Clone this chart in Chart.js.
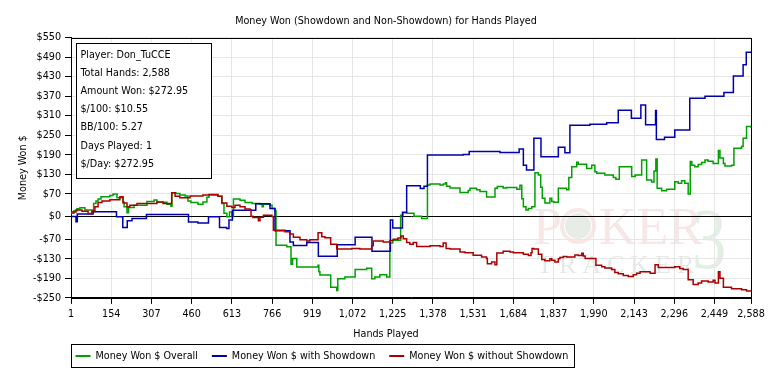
<!DOCTYPE html>
<html>
<head>
<meta charset="utf-8">
<title>Money Won (Showdown and Non-Showdown) for Hands Played</title>
<script src="https://cdn.jsdelivr.net/npm/chart.js@4.4.1/dist/chart.umd.min.js"></script>
<style>
    html, body { margin: 0; padding: 0; background: #fff; }
    #chart { display: block; }
</style>
</head>
<body>
<canvas id="chart" width="772" height="383"></canvas>
<script>
// Hand number where each series steps, and its running total from that hand on
var overallHands = [1, 12, 24, 35, 54, 81, 87, 96, 104, 115, 149, 161, 176, 199, 203, 214, 220, 241, 290, 317,
    328, 366, 381, 385, 400, 415, 435, 446, 457, 484, 503, 518, 526, 560, 575, 583, 594, 604, 613, 619,
    644, 663, 690, 720, 728, 733, 758, 766, 777, 781, 822, 838, 844, 860, 941, 944, 948, 989, 1012, 1016,
    1043, 1082, 1126, 1145, 1157, 1176, 1202, 1214, 1225, 1255, 1264, 1279, 1306, 1335, 1357, 1367, 1405, 1417, 1426, 1430,
    1443, 1481, 1512, 1519, 1544, 1557, 1582, 1614, 1623, 1645, 1658, 1697, 1709, 1716, 1722, 1732, 1741, 1754, 1766, 1779,
    1788, 1794, 1804, 1823, 1830, 1838, 1855, 1887, 1895, 1906, 1925, 1931, 1963, 1982, 1994, 2001, 2032, 2064, 2074, 2087,
    2134, 2147, 2172, 2191, 2210, 2219, 2226, 2231, 2248, 2267, 2298, 2311, 2324, 2336, 2349, 2357, 2363, 2374, 2387, 2400,
    2413, 2425, 2444, 2464, 2470, 2483, 2489, 2514, 2523, 2552, 2558, 2571, 2588];
var overallWon = [10, 18, 24, 27, 20, 14, 40, 48, 54, 61, 65, 69, 58, 45, 30, 12, 28, 35, 46, 51,
    44, 38, 32, 73, 71, 66, 63, 48, 43, 38, 45, 59, 66, 62, 40, 10, -1, 14, -1, 54,
    50, 43, 40, 38, 30, 38, 35, 25, 18, -88, -93, -147, -129, -155, -150, -170, -180, -217, -227, -191,
    -186, -163, -159, -191, -186, -179, -186, -81, -73, 4, 12, 10, 1, -6, 97, 100, 97, 100, 104, 93,
    88, 74, 80, 87, 82, 77, 60, 87, 92, 88, 89, 84, 96, 55, 30, 20, 25, 30, 135, 128,
    90, 56, 42, 56, 46, 44, 87, 82, 120, 153, 167, 161, 148, 158, 138, 133, 128, 120, 115, 153,
    123, 128, 174, 112, 106, 140, 177, 87, 79, 84, 107, 102, 110, 102, 69, 169, 158, 153, 160, 166,
    174, 170, 163, 203, 180, 163, 155, 158, 210, 215, 241, 277, 273];

var showdownHands = [1, 20, 25, 85, 174, 198, 215, 233, 288, 448, 484, 524, 566, 593, 602, 615, 704, 758, 777, 834,
    847, 898, 942, 1014, 1082, 1146, 1216, 1225, 1262, 1278, 1330, 1344, 1357, 1493, 1516, 1633, 1706, 1722, 1734, 1762,
    1789, 1855, 1880, 1899, 1975, 2039, 2083, 2133, 2169, 2187, 2225, 2228, 2259, 2298, 2355, 2413, 2485, 2521, 2558, 2570,
    2588];
var showdownWon = [0, -16, 8, 15, -1, -34, -13, -6, 6, -17, -20, -1, -34, -37, -11, 19, 39, 25, -44, -78,
    -89, -80, -122, -87, -64, -107, -11, -35, 13, 95, 86, 93, 189, 191, 200, 197, 208, 158, 143, 241,
    184, 213, 196, 281, 284, 288, 327, 302, 343, 282, 326, 237, 244, 266, 364, 370, 381, 432, 467, 505,
    505];

var nonShowdownHands = [1, 20, 43, 66, 81, 92, 104, 119, 149, 187, 199, 214, 225, 252, 328, 351, 384, 397, 415, 454,
    503, 526, 560, 575, 594, 613, 625, 644, 663, 682, 686, 693, 714, 720, 733, 765, 771, 815, 834, 847,
    872, 898, 910, 941, 955, 967, 989, 1012, 1069, 1100, 1145, 1151, 1189, 1214, 1227, 1245, 1256, 1265, 1278, 1290,
    1303, 1316, 1367, 1405, 1417, 1428, 1443, 1481, 1500, 1531, 1563, 1582, 1585, 1601, 1614, 1621, 1645, 1671, 1684, 1722,
    1741, 1751, 1755, 1762, 1779, 1792, 1804, 1823, 1830, 1842, 1855, 1861, 1874, 1887, 1918, 1931, 1944, 1950, 1957, 1998,
    2020, 2032, 2058, 2070, 2083, 2102, 2121, 2140, 2153, 2166, 2204, 2223, 2235, 2298, 2317, 2330, 2349, 2368, 2387, 2400,
    2425, 2444, 2451, 2464, 2470, 2483, 2514, 2552, 2571, 2588];
var nonShowdownWon = [14, 20, 16, 9, 17, 30, 43, 48, 52, 61, 42, 30, 35, 40, 45, 40, 73, 62, 58, 63,
    66, 68, 62, 42, 32, 28, 35, 30, 23, 20, 1, -3, -13, -2, 4, 0, -42, -47, -54, -64,
    -71, -75, -71, -50, -62, -65, -85, -100, -98, -100, -90, -75, -78, -74, -70, -66, -60, -68, -80, -85,
    -80, -92, -90, -92, -81, -98, -100, -109, -111, -119, -124, -129, -145, -140, -148, -112, -107, -109, -111, -116,
    -120, -111, -98, -100, -116, -132, -136, -130, -134, -140, -130, -126, -123, -124, -118, -120, -113, -121, -129, -150,
    -154, -158, -163, -172, -176, -181, -184, -179, -174, -170, -174, -148, -157, -154, -160, -163, -194, -209, -204, -198,
    -201, -196, -204, -170, -190, -217, -222, -225, -229, -229];

var handTicks = [1, 154, 307, 460, 613, 766, 919, 1072, 1225, 1378, 1531, 1684, 1837, 1990, 2143, 2296, 2449, 2588];
var moneyTicks = [-250, -190, -130, -70, 0, 70, 130, 190, 250, 310, 370, 430, 490, 550];

var seriesNames = ['Money Won $ Overall', 'Money Won $ with Showdown', 'Money Won $ without Showdown'];
var seriesColors = ['#00a000', '#0000aa', '#aa0000'];

var statLines = ['Player: Don_TuCCE', 'Total Hands: 2,588', 'Amount Won: $272.95', '$/100: $10.55',
    'BB/100: 5.27', 'Days Played: 1', '$/Day: $272.95'];

var FONT = "'DejaVu Sans Condensed', 'DejaVu Sans', sans-serif";
var FONT_SIZE = 10.7;
var GRID = '#e6e6e6';

function points(hands, won) {
    return hands.map(function(h, i) { return { x: h, y: won[i] }; });
}

function money(v) {
    return (v < 0 ? '-$' : '$') + Math.abs(v);
}

// Faint product logo behind the grid
function drawWatermark(chart) {
    var ctx = chart.ctx, area = chart.chartArea;
    var r = area.right;
    ctx.save();
    ctx.textBaseline = 'alphabetic';
    ctx.font = "52px 'Liberation Serif', serif";
    ctx.fillStyle = 'rgba(190, 70, 70, 0.13)';
    ctx.fillText('P', r - 218, 244);
    ctx.fillText('KER', r - 152, 244);

    // the chip that stands in for the O
    ctx.lineWidth = 4;
    ctx.strokeStyle = 'rgba(190, 70, 70, 0.13)';
    ctx.beginPath();
    ctx.arc(r - 173, 226, 16, 0, Math.PI * 2);
    ctx.stroke();
    ctx.fillStyle = 'rgba(70, 110, 70, 0.13)';
    ctx.beginPath();
    ctx.arc(r - 173, 226, 13, 0, Math.PI * 2);
    ctx.fill();

    ctx.font = "26px 'Liberation Serif', serif";
    ctx.letterSpacing = '6px';
    ctx.fillStyle = 'rgba(70, 100, 70, 0.14)';
    ctx.fillText('TRACKER', r - 214, 273);
    ctx.letterSpacing = '0px';

    ctx.translate(r - 59, 268);
    ctx.scale(0.8, 1);
    ctx.font = "86px 'Liberation Serif', serif";
    ctx.fillStyle = 'rgba(60, 140, 60, 0.14)';
    ctx.fillText('3', 0, 0);
    ctx.restore();
}

// Frame round the plot and the player stats box
function drawFrameAndStats(chart) {
    var ctx = chart.ctx, area = chart.chartArea;
    ctx.save();
    ctx.strokeStyle = '#000';
    ctx.lineWidth = 1;
    ctx.strokeRect(Math.round(area.left) + 0.5, Math.round(area.top) + 0.5,
        Math.round(area.right - area.left), Math.round(area.bottom - area.top));

    var bx = Math.round(area.left) + 5.5, by = Math.round(area.top) + 5.5;
    ctx.fillStyle = '#fff';
    ctx.fillRect(bx, by, 135, 135);
    ctx.strokeRect(bx, by, 135, 135);

    ctx.fillStyle = '#000';
    ctx.font = FONT_SIZE + 'px ' + FONT;
    ctx.textBaseline = 'middle';
    ctx.textAlign = 'left';
    statLines.forEach(function(line, i) {
        ctx.fillText(line, bx + 4, by + 12 + i * 18.05);
    });
    ctx.restore();
}

// Legend in a box under the axis title
function drawLegend(chart) {
    var ctx = chart.ctx, area = chart.chartArea;
    var left = Math.round(area.left) + 0.5, top = chart.height - 38.5;
    var y = top + 11.5;
    var x = left + 4;
    ctx.save();
    ctx.font = FONT_SIZE + 'px ' + FONT;
    ctx.textBaseline = 'middle';
    ctx.fillStyle = '#000';
    chart.data.datasets.forEach(function(ds, i) {
        ctx.strokeStyle = ds.borderColor;
        ctx.lineWidth = 2;
        ctx.beginPath();
        ctx.moveTo(x, y);
        ctx.lineTo(x + 15, y);
        ctx.stroke();
        ctx.fillText(ds.label, x + 20, y);
        x += 20 + ctx.measureText(ds.label).width + (i < chart.data.datasets.length - 1 ? 14 : 6);
    });
    ctx.strokeStyle = '#000';
    ctx.lineWidth = 1;
    ctx.strokeRect(left, top, Math.round(x - left), 23);
    ctx.restore();
}

var decorations = {
    id: 'decorations',
    beforeDraw: drawWatermark,
    beforeDatasetsDraw: drawFrameAndStats,
    afterDraw: drawLegend
};

Chart.defaults.font.family = FONT;
Chart.defaults.font.size = FONT_SIZE;
Chart.defaults.color = '#000';

var datasets = [
    { label: seriesNames[0], data: points(overallHands, overallWon), order: 3 },
    { label: seriesNames[1], data: points(showdownHands, showdownWon), order: 2 },
    { label: seriesNames[2], data: points(nonShowdownHands, nonShowdownWon), order: 1 }
].map(function(ds, i) {
    ds.borderColor = seriesColors[i];
    ds.backgroundColor = seriesColors[i];
    ds.borderWidth = 1.5;
    ds.pointRadius = 0;
    ds.stepped = true;
    ds.fill = false;
    return ds;
});

new Chart(document.getElementById('chart'), {
    type: 'line',
    data: { datasets: datasets },
    plugins: [decorations],
    options: {
        responsive: false,
        animation: false,
        events: [],
        layout: { padding: { left: 0, right: 0, top: 0, bottom: 42.4 } },
        plugins: {
            legend: { display: false },
            tooltip: { enabled: false },
            title: {
                display: true,
                text: 'Money Won (Showdown and Non-Showdown) for Hands Played',
                font: { size: FONT_SIZE, weight: 'normal' },
                color: '#000',
                padding: { top: 14.9, bottom: 9.9 }
            },
            subtitle: {
                display: true,
                position: 'bottom',
                weight: 500,
                text: 'Hands Played',
                font: { size: FONT_SIZE },
                color: '#000',
                padding: { top: 6.9, bottom: 0 }
            }
        },
        scales: {
            x: {
                type: 'linear',
                min: 1,
                max: 2588,
                afterBuildTicks: function(scale) {
                    scale.ticks = handTicks.map(function(v) { return { value: v }; });
                },
                afterFit: function(scale) { scale.height = 23; },
                ticks: {
                    autoSkip: false,
                    maxRotation: 0,
                    padding: 4,
                    color: '#000',
                    callback: function(v) { return Number(v).toLocaleString('en-US'); }
                },
                grid: { color: GRID, tickColor: '#000', tickLength: 6 },
                border: { color: '#000' }
            },
            y: {
                type: 'linear',
                min: -250,
                max: 550,
                afterBuildTicks: function(scale) {
                    scale.ticks = moneyTicks.map(function(v) { return { value: v }; });
                },
                afterFit: function(scale) { scale.width = 71; },
                ticks: {
                    autoSkip: false,
                    padding: 4,
                    color: '#000',
                    callback: function(v) { return money(v); }
                },
                grid: {
                    color: function(c) { return c.tick && c.tick.value === 0 ? '#000' : GRID; },
                    tickColor: '#000',
                    tickLength: 6
                },
                border: { color: '#000' },
                title: {
                    display: true,
                    text: 'Money Won $',
                    font: { size: FONT_SIZE },
                    color: '#000',
                    padding: { top: 16.4, bottom: 0 }
                }
            },
            // empty right-hand axis that only keeps the margin, so titles centre on the whole canvas
            margin: {
                type: 'linear',
                position: 'right',
                ticks: { display: false },
                grid: { display: false, drawTicks: false },
                border: { display: false },
                afterFit: function(scale) { scale.width = 21; }
            }
        }
    }
});
</script>
</body>
</html>
